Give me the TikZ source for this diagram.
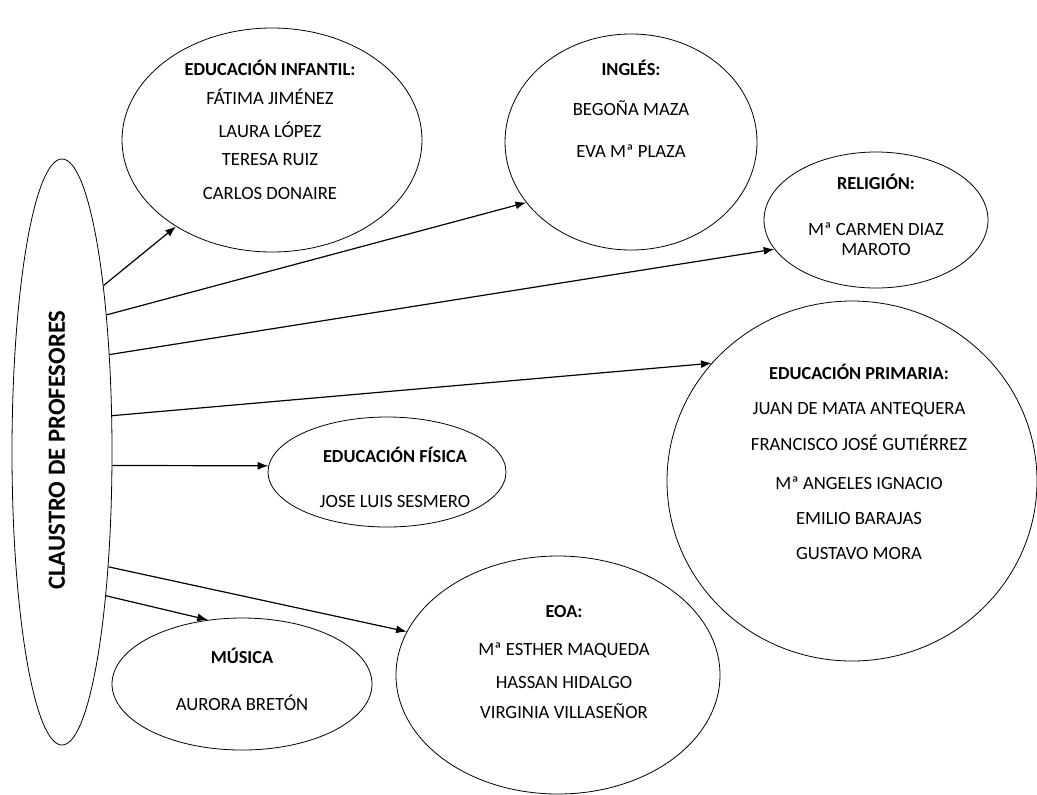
\documentclass[tikz,border=0pt]{standalone}
\usepackage{fontspec}
\setmainfont{Carlito}
\usetikzlibrary{arrows.meta, shapes.geometric}

\newcommand{\titulo}[1]{{\fontsize{13.75}{16}\selectfont\bfseries #1}}

\begin{document}
\begin{tikzpicture}[x=0.75pt, y=-0.75pt, >={Latex[length=8pt,width=6pt]}]
    \tikzstyle{grupo}=[ellipse, draw=black, line width=0.6pt, inner sep=0pt]
    \tikzstyle{lista}=[align=center, font=\fontsize{14}{16}\selectfont, inner sep=0pt]
    \tikzstyle{flecha}=[->, draw=black, line width=0.9pt]

    \useasboundingbox (0,0) rectangle (1037,794);

%    claustro
    \node[grupo, minimum width=75pt, minimum height=439.5pt] (C) at (62,452) {};
    \node[rotate=90, inner sep=0pt, font=\fontsize{18.5}{22}\selectfont\bfseries] (C-txt) at (57,450) {CLAUSTRO DE PROFESORES};

%    departamentos
    \node[grupo, minimum width=225pt, minimum height=168pt] (inf) at (272,140) {};
    \node[lista] (inf-txt) at (270,130) {\titulo{EDUCACIÓN INFANTIL:}\\[5.7pt]
        FÁTIMA JIMÉNEZ\\[8.7pt] LAURA LÓPEZ\\[5pt] TERESA RUIZ\\[9.5pt] CARLOS DONAIRE};

    \node[grupo, minimum width=189pt, minimum height=162pt] (ing) at (631,142) {};
    \node[lista] (ing-txt) at (631,109) {\titulo{INGLÉS:}\\[14pt] BEGOÑA MAZA\\[15.5pt] EVA Mª PLAZA};

    \node[grupo, minimum width=168pt, minimum height=102pt] (rel) at (876,220) {};
    \node[lista] (rel-txt) at (876,215) {\titulo{RELIGIÓN:}\\[18.5pt] Mª CARMEN DIAZ\\[-1pt] MAROTO};

    \node[grupo, minimum width=277.5pt, minimum height=270pt] (pri) at (852,481) {};
    \node[lista] (pri-txt) at (859,462) {\titulo{EDUCACIÓN PRIMARIA:}\\[10.2pt]
        JUAN DE MATA ANTEQUERA\\[11pt] FRANCISCO JOSÉ GUTIÉRREZ\\[13.2pt]
        Mª ANGELES IGNACIO\\[10.2pt] EMILIO BARAJAS\\[10.2pt] GUSTAVO MORA};

    \node[grupo, minimum width=178.5pt, minimum height=82.5pt] (fis) at (387,472) {};
    \node[lista] (fis-txt) at (395,477) {\titulo{EDUCACIÓN FÍSICA}\\[17.7pt] JOSE LUIS SESMERO};

    \node[grupo, minimum width=195pt, minimum height=99pt] (mus) at (242,684) {};
    \node[lista] (mus-txt) at (242,679) {\titulo{MÚSICA}\\[19.2pt] AURORA BRETÓN};

    \node[grupo, minimum width=243pt, minimum height=178.5pt] (eoa) at (558,675) {};
    \node[lista] (eoa-txt) at (564,662) {\titulo{EOA:}\\[12.5pt] Mª ESTHER MAQUEDA\\[8.7pt]
        HASSAN HIDALGO\\[6.5pt] VIRGINIA VILLASEÑOR};

%    flechas
    \foreach \a/\n/\b in {76.8/inf/222.5, 72.4/ing/210, 64.8/rel/196.9, 36.7/pri/140.8,
                          -15.6/fis/177.4, -68.2/eoa/164.6, -73.9/mus/118.3}{
        \draw[flecha] (C.\a) -- (\n.\b);
    }
\end{tikzpicture}
\end{document}
